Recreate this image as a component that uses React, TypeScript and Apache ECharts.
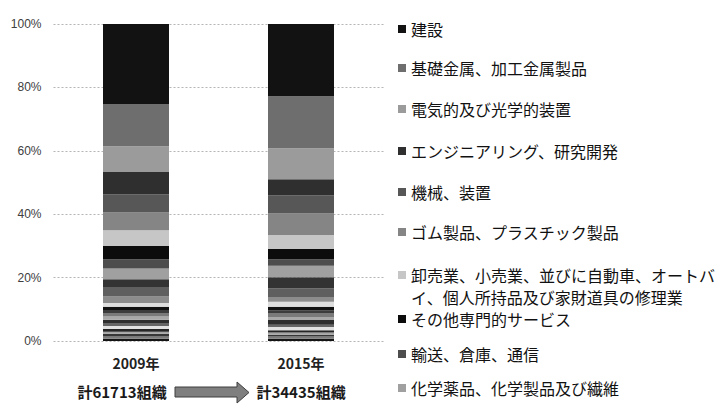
import React, { useEffect, useRef } from "react";
import * as echarts from "echarts";

const categories = ["2009年", "2015年"];
const totals = ["計61713組織", "計34435組織"];

// Series listed from the top of each bar downwards
const industries = [
  "建設",
  "基礎金属、加工金属製品",
  "電気的及び光学的装置",
  "エンジニアリング、研究開発",
  "機械、装置",
  "ゴム製品、プラスチック製品",
  "卸売業、小売業、並びに自動車、オートバイ、個人所持品及び家財道具の修理業",
  "その他専門的サービス",
  "輸送、倉庫、通信",
  "化学薬品、化学製品及び繊維",
  "系列11", "系列12", "系列13", "系列14", "系列15", "系列16", "系列17",
  "系列18", "系列19", "系列20", "系列21", "系列22", "系列23", "系列24",
  "系列25", "系列26",
];

const share2009 = [
  25.2, 13.4, 8.1, 7.0, 5.8, 5.6, 4.9, 4.2, 2.9, 3.4,
  2.5, 3.0, 2.0, 1.2,
  1.0, 1.0, 1.1, 1.0, 1.0, 1.0, 0.9, 0.9, 0.6, 0.9, 0.7, 0.7,
];
const share2015 = [
  22.8, 16.4, 9.8, 5.0, 5.8, 6.8, 4.4, 3.2, 2.1, 3.6,
  3.5, 2.7, 1.5, 1.6,
  1.1, 0.9, 1.2, 1.0, 1.5, 0.7, 1.0, 0.7, 0.7, 0.6, 0.7, 0.7,
];

const legendCount = 10;
const legendNameBreak = "卸売業、小売業、並びに自動車、オートバ\nイ、個人所持品及び家財道具の修理業";

const colors = [
  "#121212", "#6e6e6e", "#9b9b9b", "#2f2f2f", "#575757", "#858585", "#c6c6c6",
  "#0c0c0c", "#4d4d4d", "#a0a0a0",
  "#333333", "#5f5f5f", "#8c8c8c", "#dedede",
  "#111111", "#3c3c3c", "#7a7a7a", "#a8a8a8", "#2e2e2e", "#666666", "#e2e2e2",
  "#262626", "#a5a5a5", "#363636", "#7c7c7c", "#141414",
];

const legendCenters = [29, 68, 109, 151, 192, 232, 275, 319, 354, 388];

export default function App() {
  const ref = useRef<HTMLDivElement>(null);

  useEffect(() => {
    if (!ref.current) return;
    const chart = echarts.init(ref.current, null, { renderer: "svg" });

    const series = industries
      .map((name, i) => ({
        name,
        type: "bar" as const,
        stack: "total",
        barWidth: "40%",
        itemStyle: { color: colors[i] },
        emphasis: { disabled: true },
        data: [share2009[i], share2015[i]],
      }))
      .reverse();

    const legendFont = '"Noto Sans CJK JP", "Noto Sans", sans-serif';
    const legends = industries.slice(0, legendCount).map((name, i) => {
      const isTwoLine = i === 6;
      return {
        data: [name],
        orient: "vertical" as const,
        left: 398,
        top: isTwoLine ? legendCenters[i] - 33 : legendCenters[i] - 10,
        padding: 0,
        icon: "rect",
        itemWidth: 8,
        itemHeight: 8,
        selectedMode: false,
        formatter: (n: string) => (isTwoLine ? "\u3000\n" + legendNameBreak : n),
        textStyle: {
          fontSize: 16,
          fontFamily: legendFont,
          color: "#111",
          lineHeight: isTwoLine ? 22 : 20,
        },
      };
    });

    chart.setOption({
      animation: false,
      backgroundColor: "#ffffff",
      grid: { left: 53.5, right: 338.5, top: 24, bottom: 64 },
      legend: legends,
      xAxis: {
        type: "category",
        data: categories,
        axisLine: { show: false },
        axisTick: { show: false },
        axisLabel: {
          margin: 15,
          fontSize: 14,
          fontWeight: "bold",
          color: "#222",
          fontFamily: legendFont,
        },
      },
      yAxis: {
        type: "value",
        min: 0,
        max: 100,
        interval: 20,
        axisLine: { show: false },
        axisTick: { show: false },
        axisLabel: {
          formatter: "{value}%",
          margin: 12,
          fontSize: 12,
          color: "#404040",
          fontFamily: '"Liberation Sans", Arial, sans-serif',
        },
        splitLine: { lineStyle: { color: "#b5b5b5", type: [2, 2], width: 1 } },
      },
      series,
      graphic: [
        {
          type: "text",
          x: 122,
          y: 391,
          style: {
            text: totals[0],
            align: "center",
            verticalAlign: "middle",
            fontSize: 15,
            fontWeight: "bold",
            fontFamily: legendFont,
            fill: "#1a1a1a",
          },
        },
        {
          type: "text",
          x: 301,
          y: 391,
          style: {
            text: totals[1],
            align: "center",
            verticalAlign: "middle",
            fontSize: 15,
            fontWeight: "bold",
            fontFamily: legendFont,
            fill: "#1a1a1a",
          },
        },
        {
          type: "polygon",
          shape: {
            points: [
              [175, 387], [237, 387], [237, 382], [249, 392.5],
              [237, 403], [237, 397], [175, 397],
            ],
          },
          style: { fill: "#7f7f7f", stroke: "#3f3f3f", lineWidth: 1 },
        },
      ],
    });

    return () => chart.dispose();
  }, []);

  return (
    <div
      ref={ref}
      style={{ position: "absolute", left: 0, top: 0, width: 722, height: 405 }}
    />
  );
}
